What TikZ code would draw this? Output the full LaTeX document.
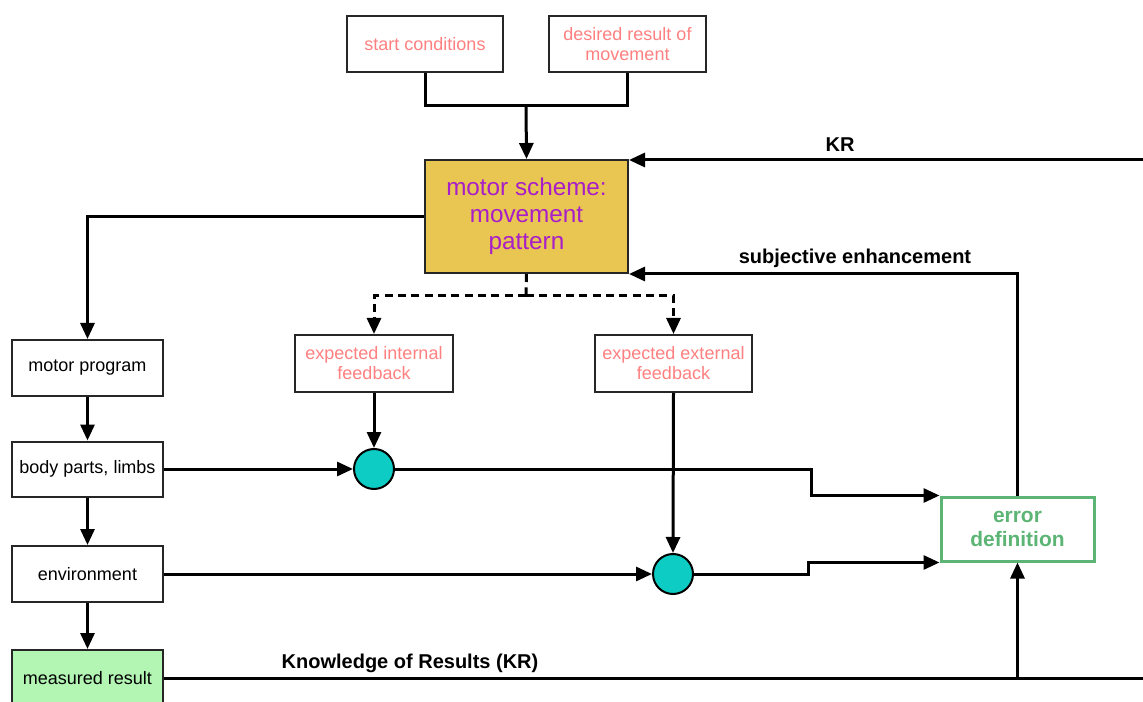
\documentclass[tikz,border=0pt]{standalone}
\usepackage{fontspec}
\setmainfont{Liberation Sans}
\usetikzlibrary{arrows.meta}

\definecolor{pinktext}{HTML}{FF8080}
\definecolor{schemefill}{HTML}{E9C552}
\definecolor{schemetext}{HTML}{A81EC8}
\definecolor{sumfill}{HTML}{0CCCC4}
\definecolor{errgreen}{HTML}{5CB574}
\definecolor{resultfill}{HTML}{B3F5B3}

\tikzset{
  box/.style={draw=black!85, line width=1.5pt, fill=white, inner sep=0pt,
    align=center, font=\fontsize{13.5}{15}\selectfont},
  inbox/.style={box, text=pinktext},
  sumnode/.style={circle, draw=black, line width=1.5pt, fill=sumfill,
    minimum size=30pt, inner sep=0pt},
  flow/.style={line width=2.25pt, -{Triangle[length=12pt,width=10.5pt]}},
  link/.style={line width=2.25pt},
  expect/.style={flow, dash pattern=on 6pt off 4pt},
  lbl/.style={font=\fontsize{15}{17}\selectfont\bfseries}
}

\begin{document}
\begin{tikzpicture}[x=0.75pt, y=-0.75pt]
\useasboundingbox (0,0) rectangle (1143,702);

% inputs of the motor scheme
\node[inbox, minimum width=117pt, minimum height=42pt] (sc) at (425,44) {start conditions};
\node[inbox, minimum width=117.75pt, minimum height=42pt] (dr) at (627.5,44) {desired result of\\movement};

% motor scheme
\node[box, fill=schemefill, text=schemetext, minimum width=152.25pt, minimum height=84.75pt,
  font=\fontsize{18.2}{20.25}\selectfont] (ms) at (526.5,216.5) {motor scheme:\\movement\\pattern};

% execution chain
\node[box, minimum width=113.25pt, minimum height=42pt] (mp) at (87.5,368) {motor program};
\node[box, minimum width=113.25pt, minimum height=41.25pt] (bp) at (87.5,469) {body parts, limbs};
\node[box, minimum width=113.25pt, minimum height=42pt] (env) at (87.5,574) {environment};
\node[box, fill=resultfill, minimum width=113.25pt, minimum height=42pt] (mr) at (87.5,678) {measured result};

% expected feedback
\node[inbox, minimum width=118.5pt, minimum height=42.75pt] (ei) at (374,363.5) {expected internal\\feedback};
\node[inbox, minimum width=117.75pt, minimum height=42.75pt] (ee) at (673.5,363.5) {expected external\\feedback};

% comparison points
\node[sumnode] (c1) at (374,469) {};
\node[sumnode] (c2) at (673,574) {};

% error definition
\node[draw=errgreen, line width=2.25pt, fill=white, text=errgreen, align=center,
  minimum width=114.75pt, minimum height=48pt, inner sep=0pt,
  font=\fontsize{15.7}{18}\selectfont\bfseries] (ed) at (1017.5,529) {error\\definition};

% helper points
\coordinate (j1) at (526,106);
\coordinate (j2) at (526,296);
\coordinate (krin) at (1143,160);
\coordinate (krout) at (1143,678);

% inputs merge into the scheme
\draw[link] (sc.south) |- (j1) -| (dr.south);
\draw[flow] (j1) -- (ms.north);

% KR feedback to the scheme
\draw[flow] (krin) -- (krin -| ms.east);
\node[lbl] (krlbl) at (840,145) {KR};

% subjective enhancement
\draw[flow] (ed.north) |- (ms.south east);
\node[lbl] (selbl) at (855,258) {subjective enhancement};

% scheme to motor program
\draw[flow] (ms.west) -| (mp.north);
\draw[flow] (mp.south) -- (bp.north);
\draw[flow] (bp.south) -- (env.north);
\draw[flow] (env.south) -- (mr.north);

% expectations
\draw[link, dash pattern=on 6pt off 4pt] (ms.south) -- (j2);
\draw[expect] (j2) -| (ei.north);
\draw[expect] (j2) -| (ee.north);

% internal comparison
\draw[flow] (bp.east) -- (c1.west);
\draw[flow] (ei.south) -- (c1.north);
\draw[flow] (c1.east) -- (811,469) |- (ed.north west);

% external comparison
\draw[flow] (env.east) -- (c2.west);
\draw[flow] (ee.south) -- (c2.north);
\draw[flow] (c2.east) -- (808,574) |- (ed.south west);

% knowledge of results
\draw[link] (mr.east) -- (krout);
\node[lbl] (kr2lbl) at (410,663) {Knowledge of Results (KR)};
\draw[flow] (ed.south |- mr.east) -- (ed.south);
\end{tikzpicture}
\end{document}
